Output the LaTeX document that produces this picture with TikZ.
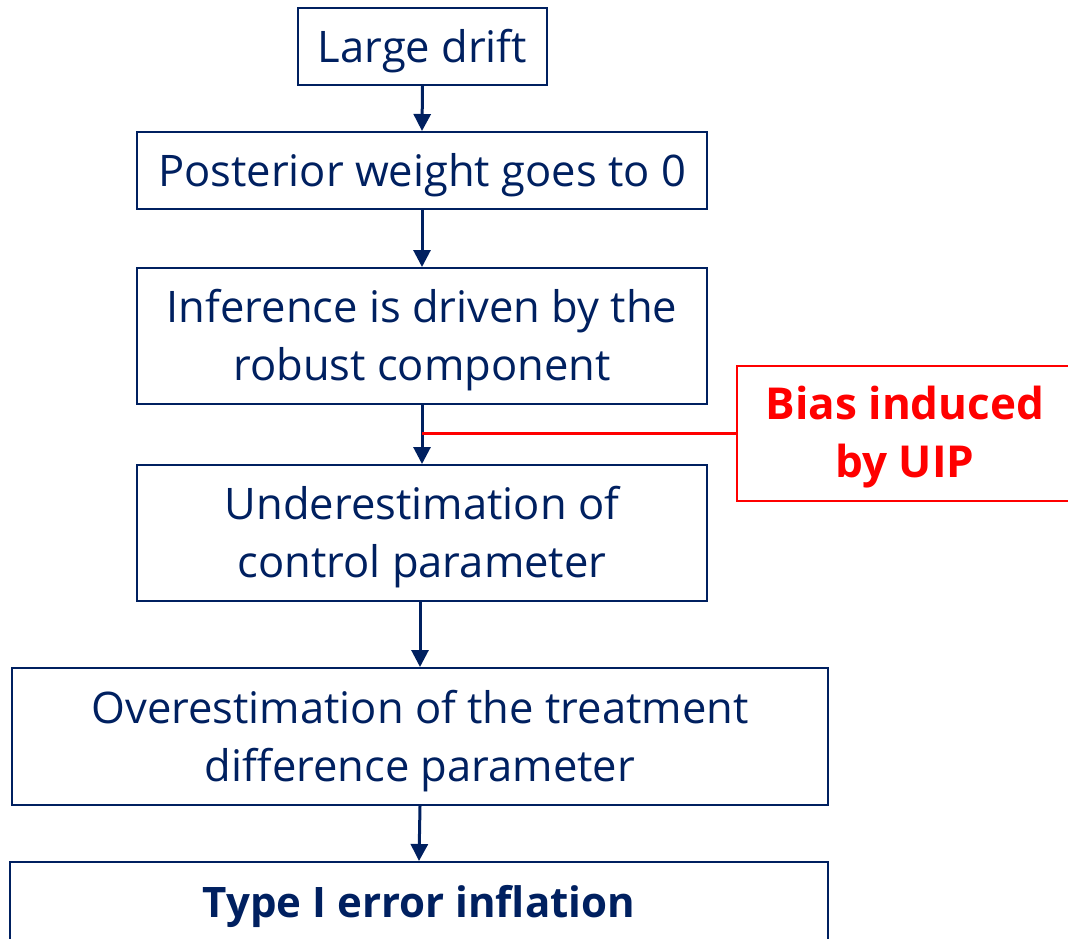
\documentclass[tikz,border=0pt]{standalone}
\usepackage{fontspec}
\setmainfont{Open Sans}
\usetikzlibrary{arrows.meta}
\definecolor{navy}{HTML}{002060}
\definecolor{uipred}{HTML}{FF0000}
\setlength{\tabcolsep}{0pt}
\newcommand{\lowered}[2]{\raisebox{-#1}[\height][\depth]{\begin{tabular}{c}#2\end{tabular}}}
\begin{document}
\begin{tikzpicture}[x=1pt,y=-1pt,
  box/.style={draw=navy,line width=2pt,text=navy,align=center,inner sep=0pt,
    font=\fontsize{43.5}{58}\selectfont},
  redbox/.style={draw=uipred,line width=2pt,text=uipred,align=center,inner sep=0pt,
    font=\fontsize{44}{58}\selectfont\bfseries},
  flow/.style={draw=navy,line width=3pt,-{Triangle[length=17pt,width=17pt]}},
  redline/.style={draw=uipred,line width=3pt}]
\useasboundingbox (0,0) rectangle (1068,939);
\clip (0,0) rectangle (1068,939);
\node[box,minimum width=249pt,minimum height=77pt] (b1) at (422.5,46.5) {\lowered{4pt}{Large drift}};
\node[box,minimum width=570pt,minimum height=77pt] (b2) at (422,170.5) {\lowered{4pt}{Posterior weight goes to 0}};
\node[box,minimum width=570pt,minimum height=136pt] (b3) at (422,336) {\lowered{4pt}{Inference is driven by the\\robust component}};
\node[box,minimum width=570pt,minimum height=136pt] (b4) at (422,533) {\lowered{4pt}{Underestimation of\\control parameter}};
\node[box,minimum width=816pt,minimum height=137pt] (b5) at (420,736.5) {\lowered{4pt}{Overestimation of the treatment\\difference parameter}};
\node[box,minimum width=818pt,minimum height=137pt,font=\fontsize{42}{57}\selectfont\bfseries] (b6) at (419,930.5) {\raisebox{0pt}[0pt][0pt]{\raisebox{13pt}{Type I error inflation}}};
\node[redbox,minimum width=336pt,minimum height=135pt] (r) at (905,433.5) {\lowered{3pt}{Bias induced\\by UIP}};
\coordinate (j) at (b3.south |- r.west);
\draw[flow] (b1.south) -- (b2.north);
\draw[flow] (b2.south) -- (b3.north);
\draw[flow] (b3.south) -- (b4.north);
\draw[redline] (j) -- (r.west);
\draw[flow] (b4.south -| b5.north) -- (b5.north);
\draw[flow] (b5.south) -- (b6.north);
\end{tikzpicture}
\end{document}
